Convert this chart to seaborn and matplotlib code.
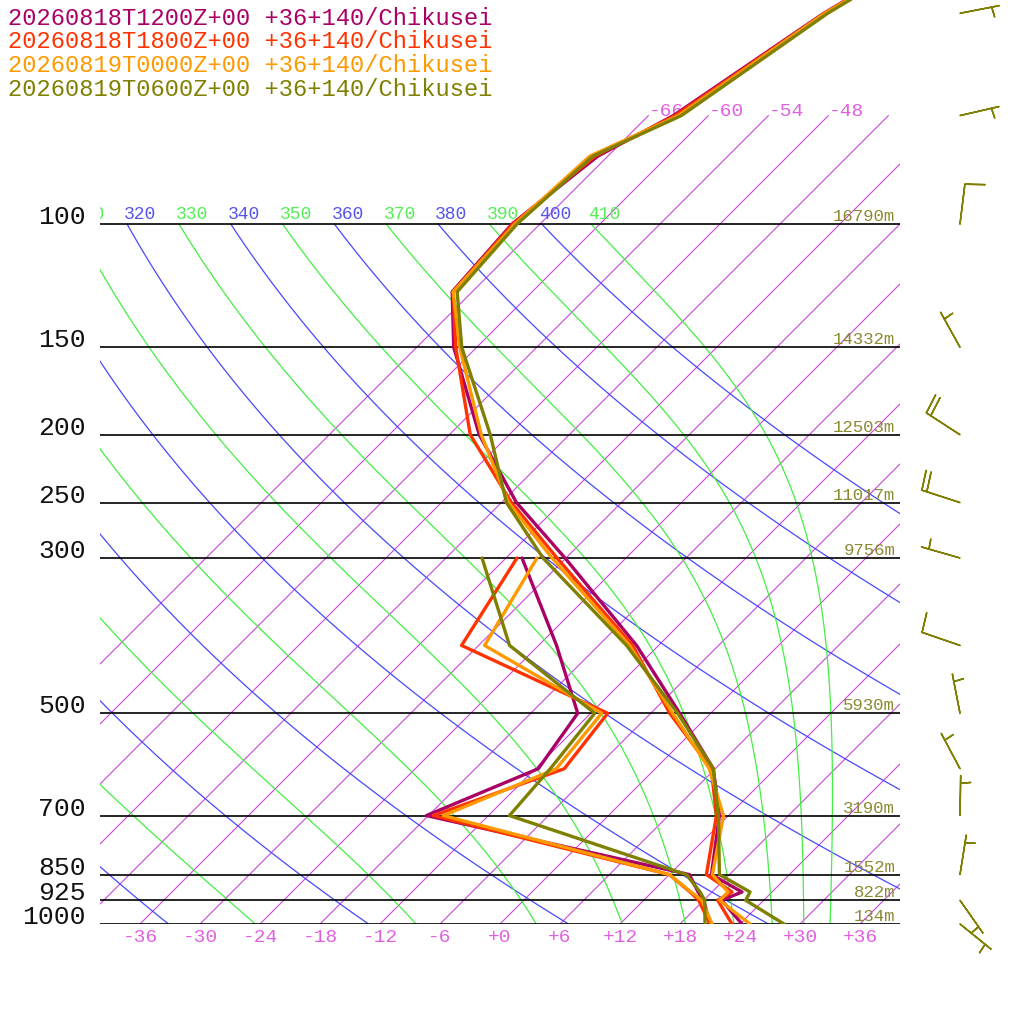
import numpy as np
import matplotlib
matplotlib.use("Agg")
import matplotlib.pyplot as plt
import matplotlib.transforms as mtransforms
import seaborn as sns

# ---------------- data ----------------
run_names = ["20260818T1200Z+00 +36+140/Chikusei",
             "20260818T1800Z+00 +36+140/Chikusei",
             "20260819T0000Z+00 +36+140/Chikusei",
             "20260819T0600Z+00 +36+140/Chikusei"]
run_colors = ["#aa0066", "#ff3300", "#ff9900", "#808000"]

t_levels = [1000, 925, 900, 850, 700, 600, 500, 400, 300, 250, 200, 150, 125, 100, 80, 70, 50, 30]
temp_12z = [24.2, 19.8, 21.0, 16.2, 11.1, 5.8, -3.1, -14.2, -30.1, -40.5, -51.0, -62.3, -68.0, -68.8, -67.0, -63.5, -58.7, -48.0]
temp_18z = [23.2, 19.4, 20.0, 15.7, 10.8, 5.6, -4.1, -14.6, -30.9, -41.0, -51.9, -62.1, -67.9, -68.7, -67.3, -63.3, -58.6, -48.0]
temp_00z = [25.0, 19.6, 19.6, 16.3, 11.5, 5.4, -3.8, -14.9, -31.4, -41.3, -50.8, -61.7, -67.9, -68.5, -67.8, -63.0, -58.6, -47.5]
temp_06z = [28.4, 22.2, 21.8, 17.0, 11.0, 5.8, -3.3, -15.2, -32.3, -41.5, -49.9, -61.5, -67.5, -68.3, -67.5, -62.7, -58.3, -48.0]

td_levels = [1000, 925, 900, 850, 700, 600, 500, 400, 300]
dew_12z = [21.0, 18.0, 16.6, 14.0, -18.2, -11.7, -13.3, -22.2, -34.4]
dew_18z = [21.0, 17.5, 15.8, 12.0, -17.5, -9.1, -10.3, -31.7, -34.9]
dew_00z = [21.2, 17.8, 15.9, 12.0, -16.5, -9.9, -10.9, -29.4, -32.9]
dew_06z = [20.5, 18.1, 16.8, 13.7, -9.9, -10.5, -11.6, -26.9, -38.4]

wind_levels = [1000, 925, 850, 700, 600, 500, 400, 300, 250, 200, 150, 100, 70, 50]
wind_dir_06z = [129, 145, 9, 1, 332, 349, 289, 286, 288, 303, 331, 7, 77, 79]
wind_kt_06z = [5, 5, 5, 5, 5, 5, 10, 5, 20, 20, 5, 10, 5, 5]

std_levels = [1000, 925, 850, 700, 500, 300, 250, 200, 150, 100]
std_labels = ["1000", "925", "850", "700", "500", "300", "250", "200", "150", "100"]
height_labels = ["134m", "822m", "1552m", "3190m", "5930m", "9756m", "11017m", "12503m", "14332m", "16790m"]

temp_ticks = [-36, -30, -24, -18, -12, -6, 0, 6, 12, 18, 24, 30, 36]
temp_tick_labels = ["-36", "-30", "-24", "-18", "-12", "-6", "+0", "+6", "+12", "+18", "+24", "+30", "+36"]
isotherm_vals = list(range(-66, 40, 6))
isotherm_top_labels = [-66, -60, -54, -48]
theta_vals = list(range(220, 401, 20))
thetae_vals = list(range(230, 411, 20))

# ---------------- styling ----------------
sns.set_theme(style="white")
plt.rcParams["font.family"] = ["Liberation Mono", "DejaVu Sans Mono"]

C_ISO = "#cc44dd"
C_ISO_TXT = "#e060e0"
C_DRY = "#4848ff"
C_MOIST = "#44ee44"
C_HGT = "#8a8a30"

fig = plt.figure(figsize=(10.24, 10.24), dpi=100)
fig.patch.set_facecolor("white")
ax = fig.add_axes([100 / 1024, 100 / 1024, 800 / 1024, 924 / 1024])
P_TOP = 1000 * 10 ** (-924 / 700)
ax.set_yscale("log")
ax.set_ylim(1000, P_TOP)
ax.set_xlim(-40, 40)
ax.set_axis_off()

# skew: 45 degrees in display space, anchored at the 1000 hPa line
Y0 = 100
skew = ax.transData + mtransforms.Affine2D().translate(0, -Y0).skew_deg(45, 0).translate(0, Y0)
SKEW_PER_DECADE = 70.0  # deg C of horizontal shift per decade of pressure (for label visibility test)

def visible_at_100(t100):
    px = 100 + 10 * (t100 + SKEW_PER_DECADE + 40)
    return px > 72

# isotherms
for t in isotherm_vals:
    ax.plot([t, t], [1000, 70], transform=skew, color=C_ISO, lw=0.8, zorder=1)
for t in isotherm_top_labels:
    ax.text(t, 70, f"{t}", transform=skew, color=C_ISO_TXT, fontsize=14,
            ha="left", va="baseline", clip_on=True, zorder=2)

# dry adiabats
Rd, cp, Lv, eps = 287.04, 1005.7, 2.501e6, 0.622
kappa = Rd / cp
p_line = np.logspace(3, 2, 120)
lab_tr = mtransforms.offset_copy(skew, fig=fig, x=-3, y=5, units="dots")
for th in theta_vals:
    T = th * (p_line / 1000) ** kappa - 273.15
    ax.plot(T, p_line, transform=skew, color=C_DRY, lw=0.9, zorder=1)
    if visible_at_100(T[-1]):
        ax.text(T[-1], 100, f"{th}", transform=lab_tr, color="#5555ee", fontsize=13,
                ha="left", va="baseline", clip_on=True, zorder=2)

# moist (pseudo) adiabats, integrated downward from 20 hPa
def sat_mr(T, p):
    e = 6.112 * np.exp(17.67 * (T - 273.15) / (T - 29.65))
    return eps * e / (p - e)

def lapse(T, p):
    rs = sat_mr(T, p)
    return (Rd * T + Lv * rs) / (cp + Lv ** 2 * rs * eps / (Rd * T ** 2))

lnp = np.linspace(np.log(20.0), np.log(1000.0), 900)
Tm = np.array(thetae_vals, float) * (20.0 / 1000.0) ** kappa
Tstore = [Tm.copy()]
for i in range(len(lnp) - 1):
    h = lnp[i + 1] - lnp[i]
    p0, pm, p1 = np.exp(lnp[i]), np.exp(lnp[i] + h / 2), np.exp(lnp[i + 1])
    k1 = lapse(Tm, p0)
    k2 = lapse(Tm + h / 2 * k1, pm)
    k3 = lapse(Tm + h / 2 * k2, pm)
    k4 = lapse(Tm + h * k3, p1)
    Tm = Tm + h / 6 * (k1 + 2 * k2 + 2 * k3 + k4)
    Tstore.append(Tm.copy())
Tstore = np.array(Tstore)
pm_all = np.exp(lnp)
sel = pm_all >= 100 - 1e-6
for j, the in enumerate(thetae_vals):
    Tc = Tstore[sel, j] - 273.15
    pc = pm_all[sel]
    ax.plot(Tc, pc, transform=skew, color=C_MOIST, lw=0.9, zorder=1)
    if visible_at_100(Tc[0]):
        ax.text(Tc[0], 100, f"{the}", transform=lab_tr, color="#55ee55", fontsize=13,
                ha="left", va="baseline", clip_on=True, zorder=2)

# pressure lines and labels
ax.hlines(std_levels, -40, 40, color="black", lw=1.2, zorder=3)
left_tr = mtransforms.blended_transform_factory(ax.transAxes, ax.transData)
for p, lab, hl in zip(std_levels, std_labels, height_labels):
    ax.text(-0.0175, p, lab, transform=left_tr, ha="right", va="baseline",
            fontsize=19, color="#111111", clip_on=False)
    ax.text(0.994, p, hl, transform=left_tr, ha="right", va="bottom",
            fontsize=12.5, color=C_HGT, clip_on=False, zorder=4)

# bottom temperature labels
bot_tr = mtransforms.blended_transform_factory(ax.transData, ax.transAxes)
for t, lab in zip(temp_ticks, temp_tick_labels):
    ax.text(t, -13 / 924, lab, transform=bot_tr, ha="center", va="center",
            fontsize=14, color=C_ISO_TXT, clip_on=False)

# profiles
temps = [temp_12z, temp_18z, temp_00z, temp_06z]
dews = [dew_12z, dew_18z, dew_00z, dew_06z]
for T, Td, col in zip(temps, dews, run_colors):
    sns.lineplot(x=Td, y=td_levels, sort=False, estimator=None, color=col, lw=2.4,
                 ax=ax, transform=skew, legend=False, zorder=5)
    sns.lineplot(x=T, y=t_levels, sort=False, estimator=None, color=col, lw=2.4,
                 ax=ax, transform=skew, legend=False, zorder=5)
ax.set_yscale("log")
ax.set_ylim(1000, P_TOP)
ax.set_xlim(-40, 40)
ax.set_axis_off()

# legend text
for i, (name, col) in enumerate(zip(run_names, run_colors)):
    fig.text(8 / 1024, 1 - (25 + 23.5 * i) / 1024, name, color=col, fontsize=17.1,
             ha="left", va="baseline")

# wind barbs
axw = fig.add_axes([900 / 1024, 100 / 1024, 124 / 1024, 924 / 1024])
axw.set_yscale("log")
axw.set_ylim(1000, P_TOP)
axw.set_xlim(0, 1)
axw.set_axis_off()
d = np.deg2rad(np.array(wind_dir_06z, float))
spd = np.array(wind_kt_06z, float)
u = -spd * np.sin(d)
v = -spd * np.cos(d)
axw.barbs(np.full(len(wind_levels), 60 / 124), wind_levels, u, v, length=7.6,
          color="#808000", linewidth=1.1, sizes=dict(height=0.5, width=0.1, spacing=0.13),
          clip_on=False)

fig.savefig("out.png", dpi=100, facecolor="white")
